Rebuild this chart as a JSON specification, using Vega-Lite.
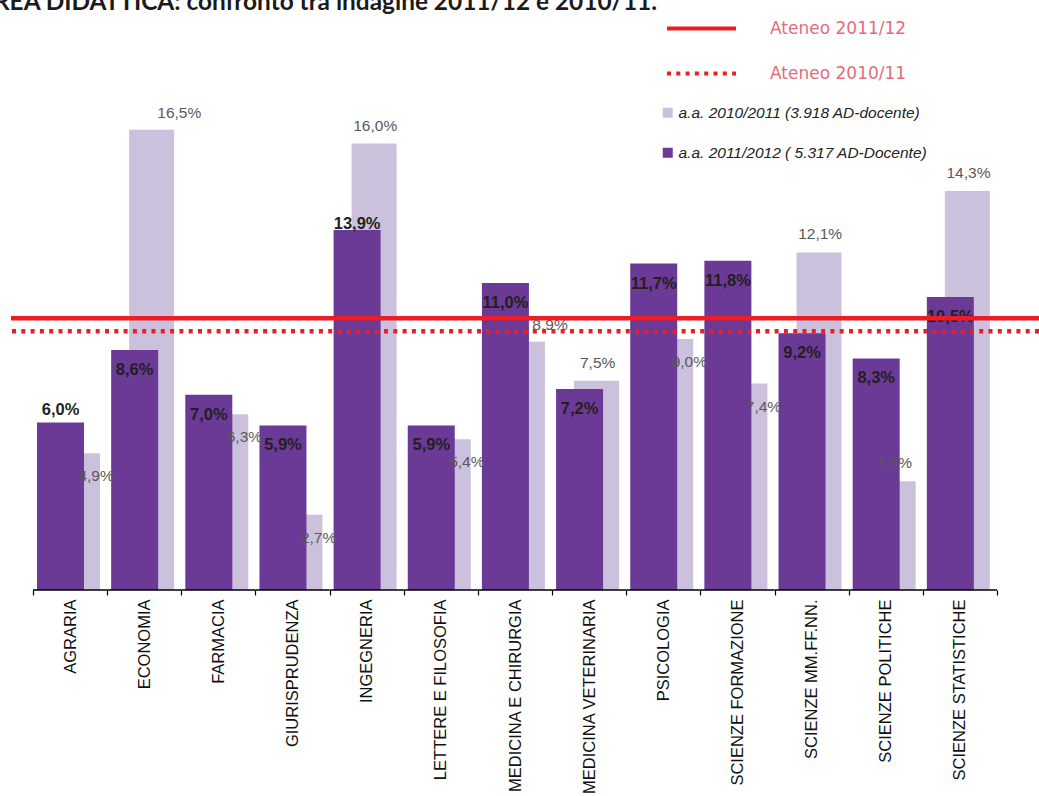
{
  "$schema": "https://vega.github.io/schema/vega-lite/v6.json",
  "autosize": "none",
  "width": 1028,
  "height": 558,
  "padding": {"left": 11, "top": 32, "right": 0, "bottom": 206},
  "background": "white",
  "title": {
    "text": "AREA DIDATTICA: confronto tra indagine 2011/12 e 2010/11.",
    "anchor": "start",
    "frame": "group",
    "font": "Lato",
    "fontSize": 24.4,
    "fontWeight": "bold",
    "color": "#1a1a1a",
    "baseline": "alphabetic",
    "dx": -34,
    "dy": 22,
    "offset": 3
  },
  "config": {"view": {"stroke": null}},
  "datasets": {
    "facolta": [
      {"cat": "AGRARIA", "v2012": 6.0, "v2011": 4.9, "l2012": "6,0%", "l2011": "4,9%"},
      {"cat": "ECONOMIA", "v2012": 8.6, "v2011": 16.5, "l2012": "8,6%", "l2011": "16,5%"},
      {"cat": "FARMACIA", "v2012": 7.0, "v2011": 6.3, "l2012": "7,0%", "l2011": "6,3%"},
      {"cat": "GIURISPRUDENZA", "v2012": 5.9, "v2011": 2.7, "l2012": "5,9%", "l2011": "2,7%"},
      {"cat": "INGEGNERIA", "v2012": 12.9, "v2011": 16.0, "l2012": "13,9%", "l2011": "16,0%"},
      {"cat": "LETTERE E FILOSOFIA", "v2012": 5.9, "v2011": 5.4, "l2012": "5,9%", "l2011": "5,4%"},
      {"cat": "MEDICINA E CHIRURGIA", "v2012": 11.0, "v2011": 8.9, "l2012": "11,0%", "l2011": "8,9%"},
      {"cat": "MEDICINA VETERINARIA", "v2012": 7.2, "v2011": 7.5, "l2012": "7,2%", "l2011": "7,5%"},
      {"cat": "PSICOLOGIA", "v2012": 11.7, "v2011": 9.0, "l2012": "11,7%", "l2011": "9,0%"},
      {"cat": "SCIENZE FORMAZIONE", "v2012": 11.8, "v2011": 7.4, "l2012": "11,8%", "l2011": "7,4%"},
      {"cat": "SCIENZE MM.FF.NN.", "v2012": 9.2, "v2011": 12.1, "l2012": "9,2%", "l2011": "12,1%"},
      {"cat": "SCIENZE POLITICHE", "v2012": 8.3, "v2011": 3.9, "l2012": "8,3%", "l2011": "3,9%"},
      {"cat": "SCIENZE STATISTICHE", "v2012": 10.5, "v2011": 14.3, "l2012": "10,5%", "l2011": "14,3%"}
    ],
    "ateneo": [
      {"serie": "Ateneo 2011/12", "v": 9.74},
      {"serie": "Ateneo 2010/11", "v": 9.27}
    ]
  },
  "layer": [
    {
      "data": {"name": "facolta"},
      "encoding": {
        "x": {
          "field": "cat",
          "type": "nominal",
          "sort": null,
          "scale": {"paddingInner": 0, "paddingOuter": 0.4316, "align": 0.344},
          "axis": {
            "title": null,
            "domain": false,
            "labelAngle": -90,
            "labelFont": "Liberation Sans",
            "labelFontSize": 16.5,
            "labelColor": "#111111",
            "labelPadding": 4,
            "labelLimit": 400,
            "tickBand": "extent",
            "tickSize": 5,
            "tickColor": "#000000",
            "tickWidth": 1.2
          }
        }
      },
      "layer": [
        {
          "mark": {"type": "bar", "width": 45, "xOffset": 7.4},
          "encoding": {
            "y": {"field": "v2011", "type": "quantitative", "scale": {"domain": [0, 20], "nice": false}, "axis": null},
            "color": {
              "datum": "a.a. 2010/2011 (3.918 AD-docente)",
              "type": "nominal",
              "scale": {
                "domain": ["a.a. 2010/2011 (3.918 AD-docente)", "a.a. 2011/2012 ( 5.317 AD-Docente)"],
                "range": ["#cbc1dd", "#6b3996"]
              },
              "legend": {
                "title": null,
                "orient": "none",
                "legendX": 649,
                "legendY": 73,
                "symbolType": "square",
                "symbolSize": 100,
                "symbolStrokeWidth": 0,
                "labelFont": "Liberation Sans",
                "labelFontStyle": "italic",
                "labelFontSize": 15.5,
                "labelColor": "#222222",
                "labelOffset": 3,
                "rowPadding": 23,
                "labelLimit": 400
              }
            }
          }
        },
        {
          "mark": {"type": "bar", "width": 47, "xOffset": -9.6},
          "encoding": {
            "y": {"field": "v2012", "type": "quantitative"},
            "color": {"datum": "a.a. 2011/2012 ( 5.317 AD-Docente)", "type": "nominal"}
          }
        },
        {
          "mark": {"type": "bar", "width": {"band": 1}, "stroke": "#000000", "strokeWidth": 1.5, "fill": "#000000"},
          "encoding": {
            "y": {"datum": 0, "type": "quantitative"},
            "y2": {"datum": 0}
          }
        },
        {
          "transform": [{"filter": {"field": "cat", "oneOf": ["AGRARIA"]}}],
          "mark": {"type": "text", "font": "Liberation Sans", "fontWeight": "bold", "fontSize": 16.5, "fill": "#231f20", "baseline": "middle", "dx": -9.6, "dy": -13},
          "encoding": {"y": {"field": "v2012", "type": "quantitative"}, "text": {"field": "l2012"}}
        },
        {
          "transform": [{"filter": {"field": "cat", "oneOf": ["INGEGNERIA"]}}],
          "mark": {"type": "text", "font": "Liberation Sans", "fontWeight": "bold", "fontSize": 16.5, "fill": "#231f20", "baseline": "middle", "dx": -9.6, "dy": -6},
          "encoding": {"y": {"field": "v2012", "type": "quantitative"}, "text": {"field": "l2012"}}
        },
        {
          "transform": [{"filter": {"not": {"field": "cat", "oneOf": ["AGRARIA", "INGEGNERIA"]}}}],
          "mark": {"type": "text", "font": "Liberation Sans", "fontWeight": "bold", "fontSize": 16.5, "fill": "#231f20", "baseline": "middle", "dx": -9.6, "dy": 20},
          "encoding": {"y": {"field": "v2012", "type": "quantitative"}, "text": {"field": "l2012"}}
        },
        {
          "transform": [{"filter": {"field": "cat", "oneOf": ["ECONOMIA", "MEDICINA E CHIRURGIA"]}}],
          "mark": {"type": "text", "font": "Liberation Sans", "fontSize": 15.5, "fill": "#595959", "baseline": "middle", "dx": 35, "dy": -17},
          "encoding": {"y": {"field": "v2011", "type": "quantitative"}, "text": {"field": "l2011"}}
        },
        {
          "transform": [{"filter": {"field": "cat", "oneOf": ["INGEGNERIA", "MEDICINA VETERINARIA", "SCIENZE MM.FF.NN.", "SCIENZE POLITICHE", "SCIENZE STATISTICHE"]}}],
          "mark": {"type": "text", "font": "Liberation Sans", "fontSize": 15.5, "fill": "#595959", "baseline": "middle", "dx": 8.5, "dy": -18},
          "encoding": {"y": {"field": "v2011", "type": "quantitative"}, "text": {"field": "l2011"}}
        },
        {
          "transform": [{"filter": {"field": "cat", "oneOf": ["AGRARIA", "FARMACIA", "GIURISPRUDENZA", "LETTERE E FILOSOFIA", "PSICOLOGIA", "SCIENZE FORMAZIONE"]}}],
          "mark": {"type": "text", "font": "Liberation Sans", "fontSize": 15.5, "fill": "#595959", "baseline": "middle", "dx": 26, "dy": 23},
          "encoding": {"y": {"field": "v2011", "type": "quantitative"}, "text": {"field": "l2011"}}
        }
      ]
    },
    {
      "data": {"name": "ateneo"},
      "mark": {"type": "rule", "strokeWidth": 4.5},
      "encoding": {
        "y": {"field": "v", "type": "quantitative"},
        "stroke": {
          "field": "serie",
          "type": "nominal",
          "sort": null,
          "scale": {"domain": ["Ateneo 2011/12", "Ateneo 2010/11"], "range": ["#ee1d25", "#ee1d25"]},
          "legend": {
            "title": null,
            "orient": "none",
            "legendX": 677,
            "legendY": -17,
            "symbolType": "M-3,0H3",
            "symbolSize": 529,
            "symbolStrokeWidth": 4,
            "symbolFillColor": "transparent",
            "labelFont": "DejaVu Sans",
            "labelFontSize": 17,
            "labelColor": "#e46c7c",
            "labelOffset": 55,
            "rowPadding": 23
          }
        },
        "strokeDash": {
          "field": "serie",
          "type": "nominal",
          "sort": null,
          "scale": {"domain": ["Ateneo 2011/12", "Ateneo 2010/11"], "range": [[1, 0], [4, 5.3]]},
          "legend": {
            "title": null,
            "orient": "none",
            "legendX": 677,
            "legendY": -17,
            "symbolType": "M-3,0H3",
            "symbolSize": 529,
            "symbolStrokeWidth": 4,
            "symbolFillColor": "transparent",
            "labelFont": "DejaVu Sans",
            "labelFontSize": 17,
            "labelColor": "#e46c7c",
            "labelOffset": 55,
            "rowPadding": 23
          }
        }
      }
    }
  ]
}
